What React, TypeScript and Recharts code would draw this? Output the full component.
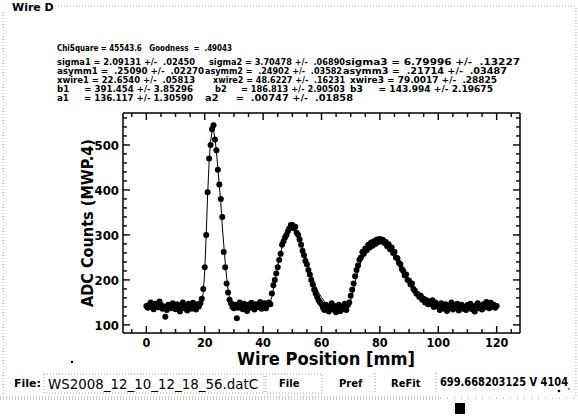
import React from 'react';
import { ComposedChart, Scatter, Line, XAxis, YAxis } from 'recharts';

// ---- data ----
const WIRE_START = 0;
const WIRE_STEP = 0.5;
// ADC counts measured every 0.5 mm from 0 to 120 mm
const adcCounts = [
  142, 138, 145, 150, 140, 135, 147, 143, 139, 152, 144, 136, 141, 118, 133, 145, 140, 137, 148, 142,
  135, 146, 139, 130, 144, 150, 137, 141, 132, 147, 143, 136, 149, 140, 134, 146, 141, 148, 158, 180,
  228, 300, 395, 470, 500, 535, 544, 512, 488, 445, 412, 380, 340, 262, 228, 192, 172, 156, 148, 140,
  137, 145, 115, 138, 150, 142, 135, 147, 140, 131, 145, 138, 149, 141, 134, 146, 139, 143, 151, 136,
  142, 148, 137, 145, 150, 146, 170, 188, 200, 214, 228, 244, 258, 278, 286, 294, 300, 308, 314, 322,
  322, 315, 318, 305, 300, 290, 278, 265, 255, 242, 235, 222, 212, 200, 190, 178, 170, 162, 155, 150,
  146, 138, 133, 145, 140, 130, 136, 148, 134, 142, 128, 139, 145, 131, 140, 136, 147, 133, 144, 150,
  165, 178, 192, 208, 222, 232, 245, 250, 262, 258, 270, 266, 278, 272, 283, 276, 286, 280, 290, 284,
  291, 286, 289, 282, 284, 275, 279, 268, 272, 260, 262, 250, 248, 238, 235, 224, 220, 210, 212, 200,
  198, 190, 192, 180, 176, 170, 168, 162, 165, 156, 158, 150, 155, 146, 152, 146, 155, 140, 150, 142,
  145, 133, 148, 140, 136, 146, 131, 142, 139, 150, 134, 143, 138, 147, 132, 141, 145, 136, 140, 133,
  144, 138, 147, 135, 141, 130, 143, 148, 137, 142, 134, 146, 139, 151, 143, 137, 149, 141, 145, 138,
  142,
];

// fitted curve (three asymmetric peaks on a flat background)
const fitPosition = [
  0, 17, 18, 18.5, 19, 19.5, 20, 20.5, 21, 21.5, 22, 22.5, 23, 23.5, 24, 24.5, 25, 25.5, 26, 26.5,
  27, 27.5, 28, 28.5, 29, 30, 31, 41, 42, 43, 44, 45, 46, 47, 48, 49, 50, 51, 52, 53, 54, 55, 56, 57,
  58, 59, 60, 61, 62, 63, 65, 68, 69, 70, 71, 72, 73, 74, 75, 76, 77, 78, 79, 80, 81, 82, 83, 84, 85,
  86, 87, 88, 89, 90, 91, 92, 93, 94, 95, 96, 97, 98, 99, 100, 102, 105, 120,
];
const fitCounts = [
  136, 137, 139, 142, 150, 172, 220, 300, 390, 462, 508, 530, 532, 515, 485, 448, 410, 372, 320, 280,
  240, 205, 178, 160, 150, 141, 138, 138, 143, 162, 196, 230, 260, 285, 303, 316, 321, 316, 302, 284,
  264, 243, 222, 203, 186, 172, 161, 152, 146, 142, 138, 138, 142, 155, 180, 208, 232, 251, 265, 275,
  281, 285, 287, 287, 285, 281, 275, 267, 257, 246, 234, 222, 210, 199, 189, 180, 172, 165, 160, 155,
  152, 150, 147, 145, 141, 139, 138,
];

const xTickValues = [-5, 0, 5, 10, 15, 20, 25, 30, 35, 40, 45, 50, 55, 60, 65, 70, 75, 80, 85, 90, 95, 100, 105, 110, 115, 120, 125];
const xMajorTicks = [0, 20, 40, 60, 80, 100, 120];
const yTickValues = [100, 120, 140, 160, 180, 200, 220, 240, 260, 280, 300, 320, 340, 360, 380, 400, 420, 440, 460, 480, 500, 520, 540, 560];
const yMajorTicks = [100, 200, 300, 400, 500];

const fitHeader = 'ChiSquare = 45543.6   Goodness  =  .49043';
const fitParams = [
  ['sigma1 = 2.09131 +/-  .02450', 'sigma2 = 3.70478 +/-  .06890', 'sigma3 = 6.79996 +/-  .13227'],
  ['asymm1 =  .25090 +/-  .02270', 'asymm2 =  .24902 +/-  .03582', 'asymm3 =  .21714 +/-  .03487'],
  ['xwire1 = 22.6540 +/-  .05813', 'xwire2 = 48.6227 +/-  .16231', 'xwire3 = 79.0017 +/-  .28825'],
  ['b1     = 391.454 +/- 3.85296', 'b2     = 186.813 +/- 2.90503', 'b3     = 143.994 +/- 2.19675'],
  ['a1     = 136.117 +/- 1.30590', 'a2     =  .00747 +/-  .01858'],
];

const scatterData = adcCounts.map((y, i) => ({ x: WIRE_START + i * WIRE_STEP, y }));
const fitData = fitPosition.map((x, i) => ({ x, y: fitCounts[i] }));

// ---- layout ----
const FONT = '"DejaVu Sans", Verdana, sans-serif';
const COND = '"DejaVu Sans Condensed", "DejaVu Sans", sans-serif';
const X_DOMAIN: [number, number] = [-8, 128];
const Y_DOMAIN: [number, number] = [82, 571];
const MAJOR = 7;
const MINOR = 4;

// [x, width] for each column of each parameter row
const paramLayout = [
  [[57, 138], [209, 136], [345, 175]],
  [[57, 147], [205, 137], [343, 164]],
  [[57, 138], [213, 132], [350, 147]],
  [[57, 136], [215, 130], [350, 143]],
  [[57, 136], [205, 148]],
];
const paramBaselines = [65, 74, 83, 92, 101];

const renderBottomTick = (p: any) => {
  const { x, y, payload } = p;
  const major = xMajorTicks.includes(payload.value);
  return (
    <g>
      <path d={`M${x},${y}V${y - (major ? MAJOR : MINOR)}`} stroke="#000" strokeWidth={1.4} fill="none" />
      {major && (
        <text x={x} y={y + 14} textAnchor="middle" fontFamily={COND} fontWeight="bold" fontSize={12.5} fill="#000" stroke="none">
          {payload.value}
        </text>
      )}
    </g>
  );
};
const renderTopTick = (p: any) => {
  const { x, y, payload } = p;
  const major = xMajorTicks.includes(payload.value);
  return <path d={`M${x},${y}V${y + (major ? MAJOR : MINOR)}`} stroke="#000" strokeWidth={1.4} fill="none" />;
};
const renderLeftTick = (p: any) => {
  const { x, y, payload } = p;
  const major = yMajorTicks.includes(payload.value);
  return (
    <g>
      <path d={`M${x},${y}H${x + (major ? MAJOR : MINOR)}`} stroke="#000" strokeWidth={1.4} fill="none" />
      {major && (
        <text x={x - 4} y={y + 5} textAnchor="end" fontFamily={COND} fontWeight="bold" fontSize={13} fill="#000" stroke="none">
          {payload.value}
        </text>
      )}
    </g>
  );
};
const renderRightTick = (p: any) => {
  const { x, y, payload } = p;
  const major = yMajorTicks.includes(payload.value);
  return <path d={`M${x},${y}H${x - (major ? MAJOR : MINOR)}`} stroke="#000" strokeWidth={1.4} fill="none" />;
};

const Dot = (p: any) => <circle cx={p.cx} cy={p.cy} r={3} fill="#000" />;

const dotted = { stroke: '#9a9a9a', strokeWidth: 1, strokeDasharray: '1 2', fill: 'none' };

export default function App() {
  return (
    <div style={{ position: 'relative', width: 578, height: 418, background: '#fff', overflow: 'hidden' }}>
      <style>{'body{margin:0;background:#fff}'}</style>
      <div style={{ position: 'absolute', left: 0, top: 0 }}>
        <ComposedChart width={578} height={418} margin={{ top: 112, right: 57, bottom: 63, left: 83 }}>
          <XAxis
            xAxisId="b"
            type="number"
            dataKey="x"
            domain={X_DOMAIN}
            ticks={xTickValues}
            interval={0}
            allowDataOverflow
            height={22}
            tickSize={0}
            tickMargin={0}
            tick={renderBottomTick}
            stroke="#000"
            strokeWidth={1.5}
          />
          <XAxis
            xAxisId="t"
            orientation="top"
            type="number"
            dataKey="x"
            domain={X_DOMAIN}
            ticks={xTickValues}
            interval={0}
            allowDataOverflow
            height={1}
            tickSize={0}
            tickMargin={0}
            tick={renderTopTick}
            stroke="#000"
            strokeWidth={1.5}
          />
          <YAxis
            yAxisId="l"
            type="number"
            dataKey="y"
            domain={Y_DOMAIN}
            ticks={yTickValues}
            interval={0}
            allowDataOverflow
            width={40}
            tickSize={0}
            tickMargin={0}
            tick={renderLeftTick}
            stroke="#000"
            strokeWidth={1.5}
          />
          <YAxis
            yAxisId="r"
            orientation="right"
            type="number"
            dataKey="y"
            domain={Y_DOMAIN}
            ticks={yTickValues}
            interval={0}
            allowDataOverflow
            width={1}
            tickSize={0}
            tickMargin={0}
            tick={renderRightTick}
            stroke="#000"
            strokeWidth={1.5}
          />
          <Scatter
            xAxisId="b"
            yAxisId="l"
            data={scatterData}
            dataKey="y"
            shape={<Dot />}
            isAnimationActive={false}
          />
          <Line
            xAxisId="t"
            yAxisId="r"
            data={fitData}
            dataKey="y"
            type="linear"
            stroke="#000"
            strokeWidth={1}
            dot={false}
            isAnimationActive={false}
          />
        </ComposedChart>
      </div>
      <svg width={578} height={418} style={{ position: 'absolute', left: 0, top: 0, pointerEvents: 'none' }}>
        {/* frame */}
        <line x1={52} y1={6} x2={576} y2={6} {...dotted} />
        <line x1={3} y1={12} x2={3} y2={396} {...dotted} />
        <line x1={576} y1={8} x2={576} y2={396} {...dotted} />
        <line x1={0} y1={397} x2={440} y2={397} {...dotted} />
        <line x1={0} y1={399} x2={440} y2={399} {...dotted} />
        <line x1={440} y1={398} x2={578} y2={398} {...dotted} strokeDasharray="1 6" />
        <text x={12} y={11} fontFamily={FONT} fontWeight="bold" fontSize={11} fill="#000">Wire D</text>

        {/* fit results */}
        <text x={57} y={51} fontFamily={COND} fontWeight="bold" fontSize={9.5} fill="#000"
          textLength={175} lengthAdjust="spacingAndGlyphs" style={{ whiteSpace: 'pre' }}>{fitHeader}</text>
        {fitParams.map((row, r) =>
          row.map((s, c) => (
            <text
              key={`${r}-${c}`}
              x={paramLayout[r][c][0]}
              y={paramBaselines[r]}
              fontFamily={COND}
              fontWeight="bold"
              fontSize={9}
              fill="#000"
              textLength={paramLayout[r][c][1]}
              lengthAdjust="spacingAndGlyphs"
              style={{ whiteSpace: 'pre' }}
            >
              {s}
            </text>
          ))
        )}

        {/* axis titles */}
        <text x={0} y={0} transform="translate(93,223) rotate(-90)" textAnchor="middle" fontFamily={FONT} fontSize={16} fontWeight={600} fill="#000"
          textLength={168} lengthAdjust="spacingAndGlyphs">
          ADC Counts (MWP.4)
        </text>
        <text x={326} y={365} textAnchor="middle" fontFamily={FONT} fontSize={17} fontWeight={600} fill="#000"
          textLength={178} lengthAdjust="spacingAndGlyphs">
          Wire Position [mm]
        </text>
        <circle cx={72} cy={362} r={1.2} fill="#000" />

        {/* bottom control bar */}
        <text x={14} y={387} fontFamily={FONT} fontWeight="bold" fontSize={11} fill="#000">File:</text>
        <rect x={44} y={374} width={220} height={19} {...dotted} />
        <text x={48} y={388.5} fontFamily={FONT} fontSize={14} fill="#000" textLength={210} lengthAdjust="spacingAndGlyphs">
          WS2008_12_10_12_18_56.datC
        </text>
        <rect x={266} y={374} width={56} height={19} {...dotted} />
        <text x={279} y={387} fontFamily={FONT} fontWeight="bold" fontSize={10} fill="#000">File</text>
        <text x={339} y={387} fontFamily={FONT} fontWeight="bold" fontSize={10} fill="#000">Pref</text>
        <line x1={375} y1={373} x2={375} y2={393} {...dotted} />
        <text x={391} y={387} fontFamily={FONT} fontWeight="bold" fontSize={10} fill="#000">ReFit</text>
        <line x1={436} y1={373} x2={436} y2={393} {...dotted} />
        <text x={440} y={386} fontFamily={COND} fontSize={11.5} fontWeight={600} fill="#000" textLength={128} lengthAdjust="spacingAndGlyphs">
          699.668203125 V 4104
        </text>
        <circle cx={559} cy={391} r={1.3} fill="#000" />
        <circle cx={569} cy={389} r={0.8} fill="#000" />
        <rect x={455} y={403} width={10} height={11} fill="#000" />
      </svg>
    </div>
  );
}
